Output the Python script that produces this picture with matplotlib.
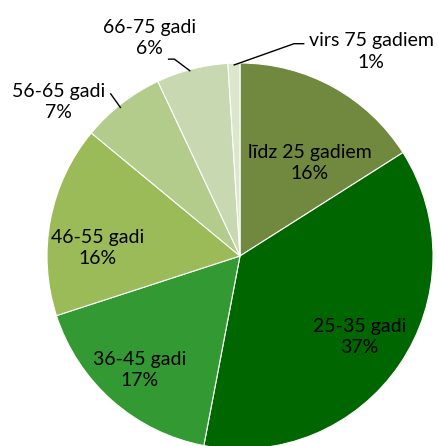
import matplotlib.pyplot as plt

labels = ['līdz 25 gadiem', '25-35 gadi', '36-45 gadi', '46-55 gadi',
          '56-65 gadi', '66-75 gadi', 'virs 75 gadiem']
shares = [16, 37, 17, 16, 7, 6, 1]
colors = ['#71893F', '#006600', '#339933', '#9BBB59', '#B3CB8B', '#C8D8B0', '#DCE6CC']

# label centres (data units, pie radius = 1)
label_pos = [(0.36, 0.48), (0.62, -0.42), (-0.52, -0.59), (-0.74, 0.04),
             (-0.94, 0.80), (-0.47, 1.13), (0.68, 1.06)]
# leader lines for the small outside slices: (index, points)
leaders = {
    4: [(-0.67, 0.84), (-0.62, 0.77)],
    5: [(-0.37, 1.02), (-0.34, 1.02), (-0.26, 0.96)],
    6: [(-0.03, 0.99), (0.28, 1.10), (0.33, 1.10)],
}

plt.rcParams['font.family'] = ['Lato', 'DejaVu Sans']

fig = plt.figure(figsize=(4.39, 4.46), dpi=100)
ax = fig.add_axes([0, 0, 1, 1])

ax.pie(shares, colors=colors, startangle=90, counterclock=False,
       wedgeprops=dict(edgecolor='white', linewidth=0.8))

for i, (lab, v) in enumerate(zip(labels, shares)):
    x, y = label_pos[i]
    ax.text(x, y, f'{lab}\n{v}%', ha='center', va='center', fontsize=14,
            linespacing=1.3, color='black')

for i, pts in leaders.items():
    xs = [p[0] for p in pts]
    ys = [p[1] for p in pts]
    ax.plot(xs, ys, color='black', linewidth=1)

ax.set_xlim(-240 / 193, 199 / 193)
ax.set_ylim(-190 / 193, 256 / 193)
ax.set_aspect('equal')
ax.axis('off')

fig.savefig('out.png', dpi=100)
